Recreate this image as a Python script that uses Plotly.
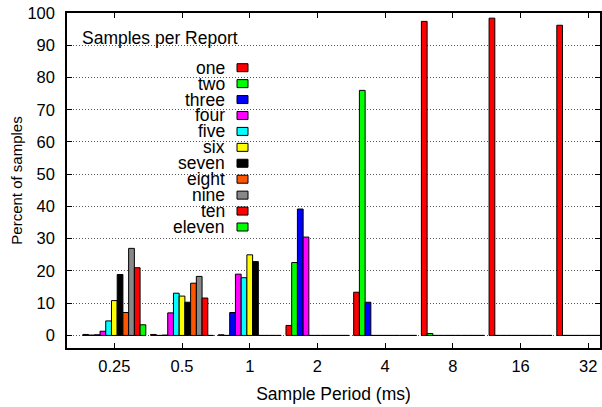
import plotly.graph_objects as go

periods = ["0.25", "0.5", "1", "2", "4", "8", "16", "32"]
names = ["one", "two", "three", "four", "five", "six", "seven", "eight", "nine", "ten", "eleven"]
colors = ["#ff0000", "#00ff00", "#0000ff", "#ff00ff", "#00ffff", "#ffff00",
          "#000000", "#ff5500", "#888888", "#ff0000", "#00ff00"]

one    = [0.3, 0.3, 0.2, 3.1, 13.4, 97.4, 98.4, 96.2]
two    = [0.1, 0.0, 0.0, 22.6, 76.0, 0.6, 0.0, 0.0]
three  = [0.2, 0.1, 7.1, 39.2, 10.3, 0.0, 0.0, 0.0]
four   = [1.3, 7.0, 19.0, 30.5, 0.0, 0.0, 0.0, 0.0]
five   = [4.5, 13.1, 17.9, 0.0, 0.0, 0.0, 0.0, 0.0]
six    = [10.8, 12.2, 25.0, 0.0, 0.0, 0.0, 0.0, 0.0]
seven  = [18.9, 10.3, 22.9, 0.0, 0.0, 0.0, 0.0, 0.0]
eight  = [7.1, 16.2, 0.0, 0.0, 0.0, 0.0, 0.0, 0.0]
nine   = [27.0, 18.3, 0.0, 0.0, 0.0, 0.0, 0.0, 0.0]
ten    = [21.0, 11.6, 0.0, 0.0, 0.0, 0.0, 0.0, 0.0]
eleven = [3.3, 0.0, 0.0, 0.0, 0.0, 0.0, 0.0, 0.0]
series = [one, two, three, four, five, six, seven, eight, nine, ten, eleven]

y_ticks = list(range(0, 101, 10))
legend_title = "Samples per Report"

FONT = "Liberation Sans, Arial, Helvetica, sans-serif"

fig = go.Figure()
for name, color, vals in zip(names, colors, series):
    fig.add_trace(go.Bar(
        x=periods, y=vals, name=name, showlegend=False,
        marker=dict(color=color, line=dict(color="black", width=1)),
    ))

# plot-area geometry (pixels) used to place the hand-made key
L, R, T, B = 67, 600, 13, 348
W, H = R - L, B - T
def px(x):
    return (x - L) / W
def py(y):
    return (B - y) / H

ROW = 15.93
shapes = [dict(type="rect", xref="paper", yref="paper", layer="between",
               x0=0.002, x1=px(257), y0=py(234), y1=0.997,
               fillcolor="white", line=dict(width=0))]
annotations = [dict(text=legend_title, xref="paper", yref="paper",
                    x=px(80), y=py(38.5), xanchor="left", yanchor="middle",
                    showarrow=False, font=dict(family=FONT, size=17.5, color="black"))]
for i, (name, color) in enumerate(zip(names, colors)):
    yc = 67.7 + ROW * i
    annotations.append(dict(text=name, xref="paper", yref="paper",
                            x=px(227), y=py(yc), xanchor="right", yanchor="middle",
                            showarrow=False,
                            font=dict(family=FONT, size=17.5, color="black")))
    shapes.append(dict(type="rect", xref="paper", yref="paper", layer="above",
                       x0=px(237), x1=px(248), y0=py(yc + 4), y1=py(yc - 4),
                       fillcolor=color, line=dict(color="black", width=1)))

fig.update_layout(
    width=602, height=407,
    margin=dict(l=L, r=602 - R, t=T, b=407 - B),
    paper_bgcolor="white", plot_bgcolor="white",
    barmode="group", bargap=0.07, bargroupgap=0.0,
    font=dict(family=FONT, size=16.5, color="black"),
    shapes=shapes, annotations=annotations,
    xaxis=dict(
        type="category", range=[-0.699, 7.173], automargin=False,
        showline=True, linecolor="black", linewidth=1.5, mirror="ticks",
        ticks="inside", ticklen=5, tickcolor="black", tickwidth=1,
        showgrid=False, tickfont=dict(size=16.5), ticklabelstandoff=2,
        title=dict(text="Sample Period (ms)", font=dict(size=17.5), standoff=14),
    ),
    yaxis=dict(
        range=[-3.9, 100], tickvals=y_ticks, automargin=False,
        showline=True, linecolor="black", linewidth=1.5, mirror="ticks",
        ticks="inside", ticklen=5, tickcolor="black", tickwidth=1,
        showgrid=True, gridcolor="#555555", griddash="1px,2px", gridwidth=1,
        zeroline=False, tickfont=dict(size=16.5), ticklabelstandoff=7,
        title=dict(text="Percent of samples", font=dict(size=15), standoff=1),
    ),
)

fig.write_html("out.html", config={"displayModeBar": False},
               post_script="document.body.style.margin='0';")
